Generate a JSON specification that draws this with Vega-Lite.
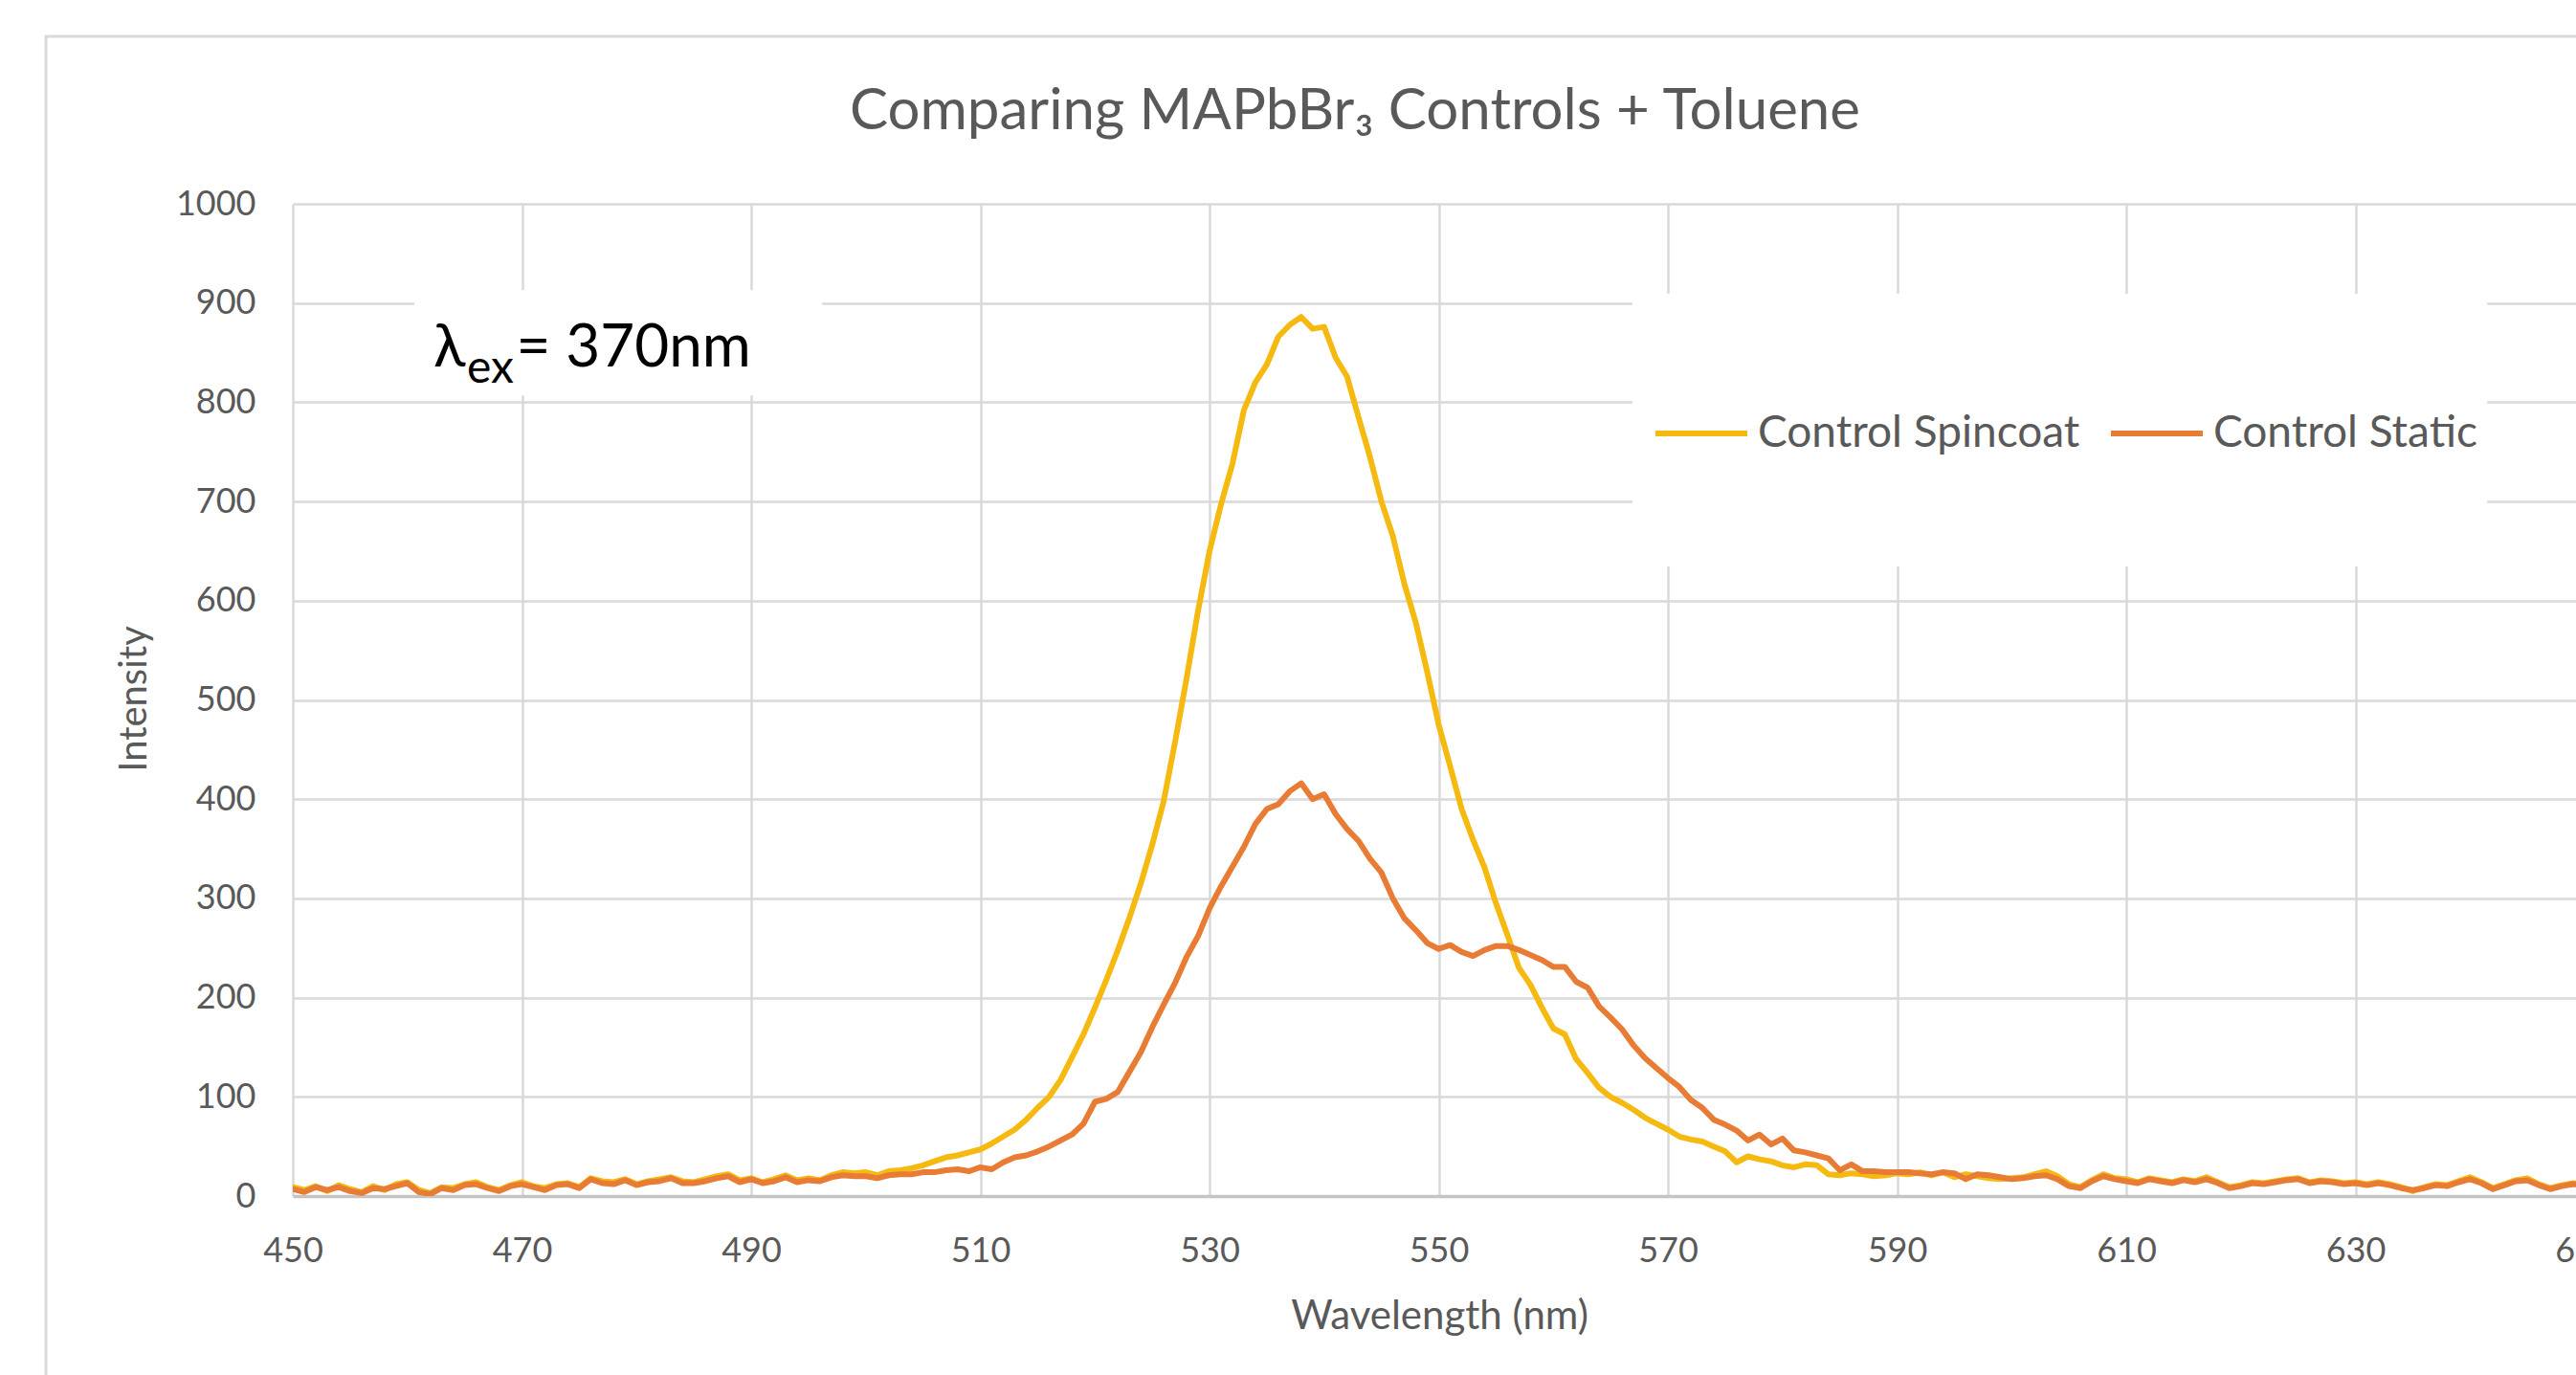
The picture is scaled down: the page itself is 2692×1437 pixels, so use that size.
{
  "$schema": "https://vega.github.io/schema/vega-lite/v6.json",
  "width": 2386,
  "height": 1037,
  "autosize": {"type": "none"},
  "padding": {"left": 306, "top": 213, "right": 0, "bottom": 187},
  "background": "white",
  "config": {"view": {"stroke": null}, "font": "Lato"},
  "title": {
    "text": "Comparing MAPbBr₃ Controls + Toluene",
    "font": "Lato", "fontSize": 60, "fontWeight": "normal", "color": "#595959",
    "anchor": "middle", "frame": "group", "baseline": "alphabetic", "offset": 78, "dx": -83, "dy": 237
  },
  "datasets": {
    "spectra": [
      {"wavelength":450,"Control Spincoat":9,"Control Static":7},
      {"wavelength":451,"Control Spincoat":6,"Control Static":4},
      {"wavelength":452,"Control Spincoat":10,"Control Static":9},
      {"wavelength":453,"Control Spincoat":5,"Control Static":6},
      {"wavelength":454,"Control Spincoat":11,"Control Static":9},
      {"wavelength":455,"Control Spincoat":7,"Control Static":5},
      {"wavelength":456,"Control Spincoat":4,"Control Static":3},
      {"wavelength":457,"Control Spincoat":10,"Control Static":8},
      {"wavelength":458,"Control Spincoat":6,"Control Static":7},
      {"wavelength":459,"Control Spincoat":12,"Control Static":10},
      {"wavelength":460,"Control Spincoat":14,"Control Static":13},
      {"wavelength":461,"Control Spincoat":6,"Control Static":4},
      {"wavelength":462,"Control Spincoat":3,"Control Static":2},
      {"wavelength":463,"Control Spincoat":9,"Control Static":8},
      {"wavelength":464,"Control Spincoat":8,"Control Static":6},
      {"wavelength":465,"Control Spincoat":12,"Control Static":11},
      {"wavelength":466,"Control Spincoat":14,"Control Static":12},
      {"wavelength":467,"Control Spincoat":9,"Control Static":8},
      {"wavelength":468,"Control Spincoat":6,"Control Static":5},
      {"wavelength":469,"Control Spincoat":11,"Control Static":10},
      {"wavelength":470,"Control Spincoat":14,"Control Static":12},
      {"wavelength":471,"Control Spincoat":10,"Control Static":9},
      {"wavelength":472,"Control Spincoat":8,"Control Static":6},
      {"wavelength":473,"Control Spincoat":12,"Control Static":11},
      {"wavelength":474,"Control Spincoat":13,"Control Static":12},
      {"wavelength":475,"Control Spincoat":9,"Control Static":8},
      {"wavelength":476,"Control Spincoat":18,"Control Static":17},
      {"wavelength":477,"Control Spincoat":15,"Control Static":13},
      {"wavelength":478,"Control Spincoat":14,"Control Static":12},
      {"wavelength":479,"Control Spincoat":17,"Control Static":16},
      {"wavelength":480,"Control Spincoat":12,"Control Static":11},
      {"wavelength":481,"Control Spincoat":15,"Control Static":14},
      {"wavelength":482,"Control Spincoat":17,"Control Static":15},
      {"wavelength":483,"Control Spincoat":19,"Control Static":18},
      {"wavelength":484,"Control Spincoat":15,"Control Static":13},
      {"wavelength":485,"Control Spincoat":14,"Control Static":13},
      {"wavelength":486,"Control Spincoat":17,"Control Static":15},
      {"wavelength":487,"Control Spincoat":20,"Control Static":18},
      {"wavelength":488,"Control Spincoat":22,"Control Static":20},
      {"wavelength":489,"Control Spincoat":16,"Control Static":14},
      {"wavelength":490,"Control Spincoat":18,"Control Static":17},
      {"wavelength":491,"Control Spincoat":14,"Control Static":13},
      {"wavelength":492,"Control Spincoat":17,"Control Static":15},
      {"wavelength":493,"Control Spincoat":21,"Control Static":19},
      {"wavelength":494,"Control Spincoat":16,"Control Static":14},
      {"wavelength":495,"Control Spincoat":18,"Control Static":16},
      {"wavelength":496,"Control Spincoat":16,"Control Static":15},
      {"wavelength":497,"Control Spincoat":21,"Control Static":19},
      {"wavelength":498,"Control Spincoat":24,"Control Static":21},
      {"wavelength":499,"Control Spincoat":23,"Control Static":20},
      {"wavelength":500,"Control Spincoat":24,"Control Static":20},
      {"wavelength":501,"Control Spincoat":21,"Control Static":18},
      {"wavelength":502,"Control Spincoat":25,"Control Static":21},
      {"wavelength":503,"Control Spincoat":26,"Control Static":22},
      {"wavelength":504,"Control Spincoat":28,"Control Static":22},
      {"wavelength":505,"Control Spincoat":31,"Control Static":24},
      {"wavelength":506,"Control Spincoat":35,"Control Static":24},
      {"wavelength":507,"Control Spincoat":39,"Control Static":26},
      {"wavelength":508,"Control Spincoat":41,"Control Static":27},
      {"wavelength":509,"Control Spincoat":44,"Control Static":25},
      {"wavelength":510,"Control Spincoat":47,"Control Static":29},
      {"wavelength":511,"Control Spincoat":53,"Control Static":27},
      {"wavelength":512,"Control Spincoat":60,"Control Static":34},
      {"wavelength":513,"Control Spincoat":67,"Control Static":39},
      {"wavelength":514,"Control Spincoat":77,"Control Static":41},
      {"wavelength":515,"Control Spincoat":89,"Control Static":45},
      {"wavelength":516,"Control Spincoat":100,"Control Static":50},
      {"wavelength":517,"Control Spincoat":117,"Control Static":56},
      {"wavelength":518,"Control Spincoat":140,"Control Static":62},
      {"wavelength":519,"Control Spincoat":163,"Control Static":73},
      {"wavelength":520,"Control Spincoat":190,"Control Static":95},
      {"wavelength":521,"Control Spincoat":218,"Control Static":98},
      {"wavelength":522,"Control Spincoat":248,"Control Static":105},
      {"wavelength":523,"Control Spincoat":280,"Control Static":125},
      {"wavelength":524,"Control Spincoat":315,"Control Static":145},
      {"wavelength":525,"Control Spincoat":354,"Control Static":170},
      {"wavelength":526,"Control Spincoat":398,"Control Static":193},
      {"wavelength":527,"Control Spincoat":458,"Control Static":215},
      {"wavelength":528,"Control Spincoat":522,"Control Static":241},
      {"wavelength":529,"Control Spincoat":590,"Control Static":262},
      {"wavelength":530,"Control Spincoat":650,"Control Static":290},
      {"wavelength":531,"Control Spincoat":697,"Control Static":312},
      {"wavelength":532,"Control Spincoat":738,"Control Static":332},
      {"wavelength":533,"Control Spincoat":792,"Control Static":352},
      {"wavelength":534,"Control Spincoat":820,"Control Static":375},
      {"wavelength":535,"Control Spincoat":838,"Control Static":390},
      {"wavelength":536,"Control Spincoat":866,"Control Static":395},
      {"wavelength":537,"Control Spincoat":878,"Control Static":408},
      {"wavelength":538,"Control Spincoat":886,"Control Static":416},
      {"wavelength":539,"Control Spincoat":874,"Control Static":400},
      {"wavelength":540,"Control Spincoat":876,"Control Static":405},
      {"wavelength":541,"Control Spincoat":845,"Control Static":385},
      {"wavelength":542,"Control Spincoat":826,"Control Static":370},
      {"wavelength":543,"Control Spincoat":785,"Control Static":358},
      {"wavelength":544,"Control Spincoat":745,"Control Static":340},
      {"wavelength":545,"Control Spincoat":700,"Control Static":326},
      {"wavelength":546,"Control Spincoat":665,"Control Static":300},
      {"wavelength":547,"Control Spincoat":617,"Control Static":280},
      {"wavelength":548,"Control Spincoat":578,"Control Static":268},
      {"wavelength":549,"Control Spincoat":528,"Control Static":255},
      {"wavelength":550,"Control Spincoat":475,"Control Static":249},
      {"wavelength":551,"Control Spincoat":433,"Control Static":253},
      {"wavelength":552,"Control Spincoat":390,"Control Static":246},
      {"wavelength":553,"Control Spincoat":359,"Control Static":242},
      {"wavelength":554,"Control Spincoat":331,"Control Static":248},
      {"wavelength":555,"Control Spincoat":295,"Control Static":252},
      {"wavelength":556,"Control Spincoat":263,"Control Static":252},
      {"wavelength":557,"Control Spincoat":230,"Control Static":248},
      {"wavelength":558,"Control Spincoat":213,"Control Static":243},
      {"wavelength":559,"Control Spincoat":190,"Control Static":238},
      {"wavelength":560,"Control Spincoat":169,"Control Static":231},
      {"wavelength":561,"Control Spincoat":163,"Control Static":231},
      {"wavelength":562,"Control Spincoat":138,"Control Static":216},
      {"wavelength":563,"Control Spincoat":124,"Control Static":210},
      {"wavelength":564,"Control Spincoat":109,"Control Static":191},
      {"wavelength":565,"Control Spincoat":100,"Control Static":180},
      {"wavelength":566,"Control Spincoat":94,"Control Static":168},
      {"wavelength":567,"Control Spincoat":87,"Control Static":152},
      {"wavelength":568,"Control Spincoat":79,"Control Static":139},
      {"wavelength":569,"Control Spincoat":73,"Control Static":129},
      {"wavelength":570,"Control Spincoat":67,"Control Static":119},
      {"wavelength":571,"Control Spincoat":60,"Control Static":110},
      {"wavelength":572,"Control Spincoat":57,"Control Static":97},
      {"wavelength":573,"Control Spincoat":55,"Control Static":89},
      {"wavelength":574,"Control Spincoat":50,"Control Static":77},
      {"wavelength":575,"Control Spincoat":45,"Control Static":72},
      {"wavelength":576,"Control Spincoat":34,"Control Static":66},
      {"wavelength":577,"Control Spincoat":40,"Control Static":56},
      {"wavelength":578,"Control Spincoat":37,"Control Static":62},
      {"wavelength":579,"Control Spincoat":35,"Control Static":52},
      {"wavelength":580,"Control Spincoat":31,"Control Static":58},
      {"wavelength":581,"Control Spincoat":29,"Control Static":46},
      {"wavelength":582,"Control Spincoat":32,"Control Static":44},
      {"wavelength":583,"Control Spincoat":31,"Control Static":41},
      {"wavelength":584,"Control Spincoat":22,"Control Static":38},
      {"wavelength":585,"Control Spincoat":21,"Control Static":26},
      {"wavelength":586,"Control Spincoat":23,"Control Static":32},
      {"wavelength":587,"Control Spincoat":22,"Control Static":25},
      {"wavelength":588,"Control Spincoat":20,"Control Static":25},
      {"wavelength":589,"Control Spincoat":21,"Control Static":24},
      {"wavelength":590,"Control Spincoat":23,"Control Static":24},
      {"wavelength":591,"Control Spincoat":22,"Control Static":24},
      {"wavelength":592,"Control Spincoat":24,"Control Static":23},
      {"wavelength":593,"Control Spincoat":21,"Control Static":22},
      {"wavelength":594,"Control Spincoat":24,"Control Static":24},
      {"wavelength":595,"Control Spincoat":19,"Control Static":23},
      {"wavelength":596,"Control Spincoat":22,"Control Static":17},
      {"wavelength":597,"Control Spincoat":20,"Control Static":22},
      {"wavelength":598,"Control Spincoat":18,"Control Static":21},
      {"wavelength":599,"Control Spincoat":17,"Control Static":19},
      {"wavelength":600,"Control Spincoat":18,"Control Static":17},
      {"wavelength":601,"Control Spincoat":19,"Control Static":18},
      {"wavelength":602,"Control Spincoat":22,"Control Static":20},
      {"wavelength":603,"Control Spincoat":25,"Control Static":21},
      {"wavelength":604,"Control Spincoat":20,"Control Static":17},
      {"wavelength":605,"Control Spincoat":12,"Control Static":10},
      {"wavelength":606,"Control Spincoat":9,"Control Static":8},
      {"wavelength":607,"Control Spincoat":16,"Control Static":15},
      {"wavelength":608,"Control Spincoat":22,"Control Static":20},
      {"wavelength":609,"Control Spincoat":18,"Control Static":17},
      {"wavelength":610,"Control Spincoat":17,"Control Static":15},
      {"wavelength":611,"Control Spincoat":14,"Control Static":13},
      {"wavelength":612,"Control Spincoat":18,"Control Static":17},
      {"wavelength":613,"Control Spincoat":16,"Control Static":15},
      {"wavelength":614,"Control Spincoat":14,"Control Static":13},
      {"wavelength":615,"Control Spincoat":17,"Control Static":16},
      {"wavelength":616,"Control Spincoat":15,"Control Static":14},
      {"wavelength":617,"Control Spincoat":19,"Control Static":17},
      {"wavelength":618,"Control Spincoat":14,"Control Static":13},
      {"wavelength":619,"Control Spincoat":9,"Control Static":8},
      {"wavelength":620,"Control Spincoat":11,"Control Static":10},
      {"wavelength":621,"Control Spincoat":14,"Control Static":13},
      {"wavelength":622,"Control Spincoat":13,"Control Static":12},
      {"wavelength":623,"Control Spincoat":15,"Control Static":14},
      {"wavelength":624,"Control Spincoat":17,"Control Static":16},
      {"wavelength":625,"Control Spincoat":18,"Control Static":17},
      {"wavelength":626,"Control Spincoat":14,"Control Static":13},
      {"wavelength":627,"Control Spincoat":16,"Control Static":15},
      {"wavelength":628,"Control Spincoat":15,"Control Static":14},
      {"wavelength":629,"Control Spincoat":13,"Control Static":12},
      {"wavelength":630,"Control Spincoat":14,"Control Static":13},
      {"wavelength":631,"Control Spincoat":12,"Control Static":11},
      {"wavelength":632,"Control Spincoat":14,"Control Static":13},
      {"wavelength":633,"Control Spincoat":12,"Control Static":11},
      {"wavelength":634,"Control Spincoat":9,"Control Static":8},
      {"wavelength":635,"Control Spincoat":5,"Control Static":6},
      {"wavelength":636,"Control Spincoat":9,"Control Static":8},
      {"wavelength":637,"Control Spincoat":12,"Control Static":11},
      {"wavelength":638,"Control Spincoat":11,"Control Static":10},
      {"wavelength":639,"Control Spincoat":15,"Control Static":14},
      {"wavelength":640,"Control Spincoat":19,"Control Static":17},
      {"wavelength":641,"Control Spincoat":14,"Control Static":13},
      {"wavelength":642,"Control Spincoat":8,"Control Static":7},
      {"wavelength":643,"Control Spincoat":12,"Control Static":11},
      {"wavelength":644,"Control Spincoat":16,"Control Static":15},
      {"wavelength":645,"Control Spincoat":18,"Control Static":16},
      {"wavelength":646,"Control Spincoat":12,"Control Static":11},
      {"wavelength":647,"Control Spincoat":8,"Control Static":7},
      {"wavelength":648,"Control Spincoat":11,"Control Static":10},
      {"wavelength":649,"Control Spincoat":13,"Control Static":12},
      {"wavelength":650,"Control Spincoat":12,"Control Static":11}
    ],
    "blank": [{}]
  },
  "layer": [
    {
      "data": {"name": "blank"},
      "mark": {"type": "rect", "fill": null, "fillOpacity": 0, "stroke": "#d9d9d9", "strokeWidth": 3, "clip": false},
      "encoding": {
        "x": {"datum": 428.46, "type": "quantitative", "scale": {"domain": [450, 650], "range": [0, 2395], "nice": false, "zero": false}},
        "x2": {"datum": 720},
        "y": {"datum": 1168.8, "type": "quantitative", "scale": {"domain": [0, 1000], "nice": false, "zero": true}},
        "y2": {"datum": -400}
      }
    },
    {
      "data": {"name": "blank"},
      "mark": {"type": "rect", "fill": "white", "stroke": null},
      "encoding": {
        "x": {"datum": 460.6, "type": "quantitative"},
        "x2": {"datum": 496.2},
        "y": {"datum": 913, "type": "quantitative"},
        "y2": {"datum": 807}
      }
    },
    {
      "data": {"name": "blank"},
      "mark": {"type": "rect", "fill": "white", "stroke": null},
      "encoding": {
        "x": {"datum": 566.9, "type": "quantitative"},
        "x2": {"datum": 641.5},
        "y": {"datum": 909.4, "type": "quantitative"},
        "y2": {"datum": 634.5}
      }
    },
    {
      "data": {"name": "spectra"},
      "transform": [{"fold": ["Control Spincoat", "Control Static"], "as": ["series", "intensity"]}],
      "mark": {"type": "line", "strokeWidth": 6, "strokeJoin": "round", "strokeCap": "round", "clip": true},
      "encoding": {
        "x": {
          "field": "wavelength", "type": "quantitative",
          "axis": {
            "values": [450, 470, 490, 510, 530, 550, 570, 590, 610, 630, 650],
            "title": "Wavelength (nm)", "titleFont": "Lato", "titleFontSize": 42, "titleFontWeight": "normal", "titleColor": "#595959",
            "titleX": 1198, "titleY": 138, "titleBaseline": "alphabetic", "titleAlign": "center", "titleAnchor": null,
            "labelFont": "Lato", "labelFontSize": 36, "labelColor": "#595959", "labelPadding": 40, "labelFlush": false, "labelOverlap": false,
            "ticks": false, "domain": true, "domainColor": "#c4c4c4", "domainWidth": 3.5,
            "grid": true, "gridColor": "#d9d9d9", "gridWidth": 2.5
          }
        },
        "y": {
          "field": "intensity", "type": "quantitative",
          "axis": {
            "values": [0, 100, 200, 300, 400, 500, 600, 700, 800, 900, 1000], "format": "d",
            "title": "Intensity", "titleFont": "Lato", "titleFontSize": 40, "titleFontWeight": "normal", "titleColor": "#595959",
            "titleX": -154, "titleY": 517, "titleAngle": 270, "titleBaseline": "alphabetic", "titleAlign": "center", "titleAnchor": null,
            "labelFont": "Lato", "labelFontSize": 36, "labelColor": "#595959", "labelPadding": 39, "labelFlush": false, "labelOverlap": false,
            "ticks": false, "domain": false,
            "grid": true, "gridColor": "#d9d9d9", "gridWidth": 2.5
          }
        },
        "color": {
          "field": "series", "type": "nominal",
          "scale": {"domain": ["Control Spincoat", "Control Static"], "range": ["#F5B910", "#E87C34"]},
          "legend": {
            "orient": "none", "legendX": 1421, "legendY": 189, "direction": "horizontal", "title": null,
            "symbolType": "stroke", "symbolSize": 9216, "symbolStrokeWidth": 6,
            "labelFont": "Lato", "labelFontSize": 46, "labelColor": "#595959", "labelOffset": 8, "labelLimit": 0,
            "columnPadding": 20, "padding": 0
          }
        }
      }
    },
    {
      "data": {"name": "blank"},
      "mark": {"type": "text", "text": "λ", "font": "Lato", "fontSize": 62, "color": "#000000", "align": "left", "baseline": "alphabetic"},
      "encoding": {"x": {"datum": 462.28, "type": "quantitative"}, "y": {"datum": 836, "type": "quantitative"}}
    },
    {
      "data": {"name": "blank"},
      "mark": {"type": "text", "text": "ex", "font": "Lato", "fontSize": 48, "color": "#000000", "align": "left", "baseline": "alphabetic"},
      "encoding": {"x": {"datum": 465.2, "type": "quantitative"}, "y": {"datum": 819.7, "type": "quantitative"}}
    },
    {
      "data": {"name": "blank"},
      "mark": {"type": "text", "text": "= 370nm", "font": "Lato", "fontSize": 62, "color": "#000000", "align": "left", "baseline": "alphabetic"},
      "encoding": {"x": {"datum": 469.5, "type": "quantitative"}, "y": {"datum": 836, "type": "quantitative"}}
    }
  ]
}
